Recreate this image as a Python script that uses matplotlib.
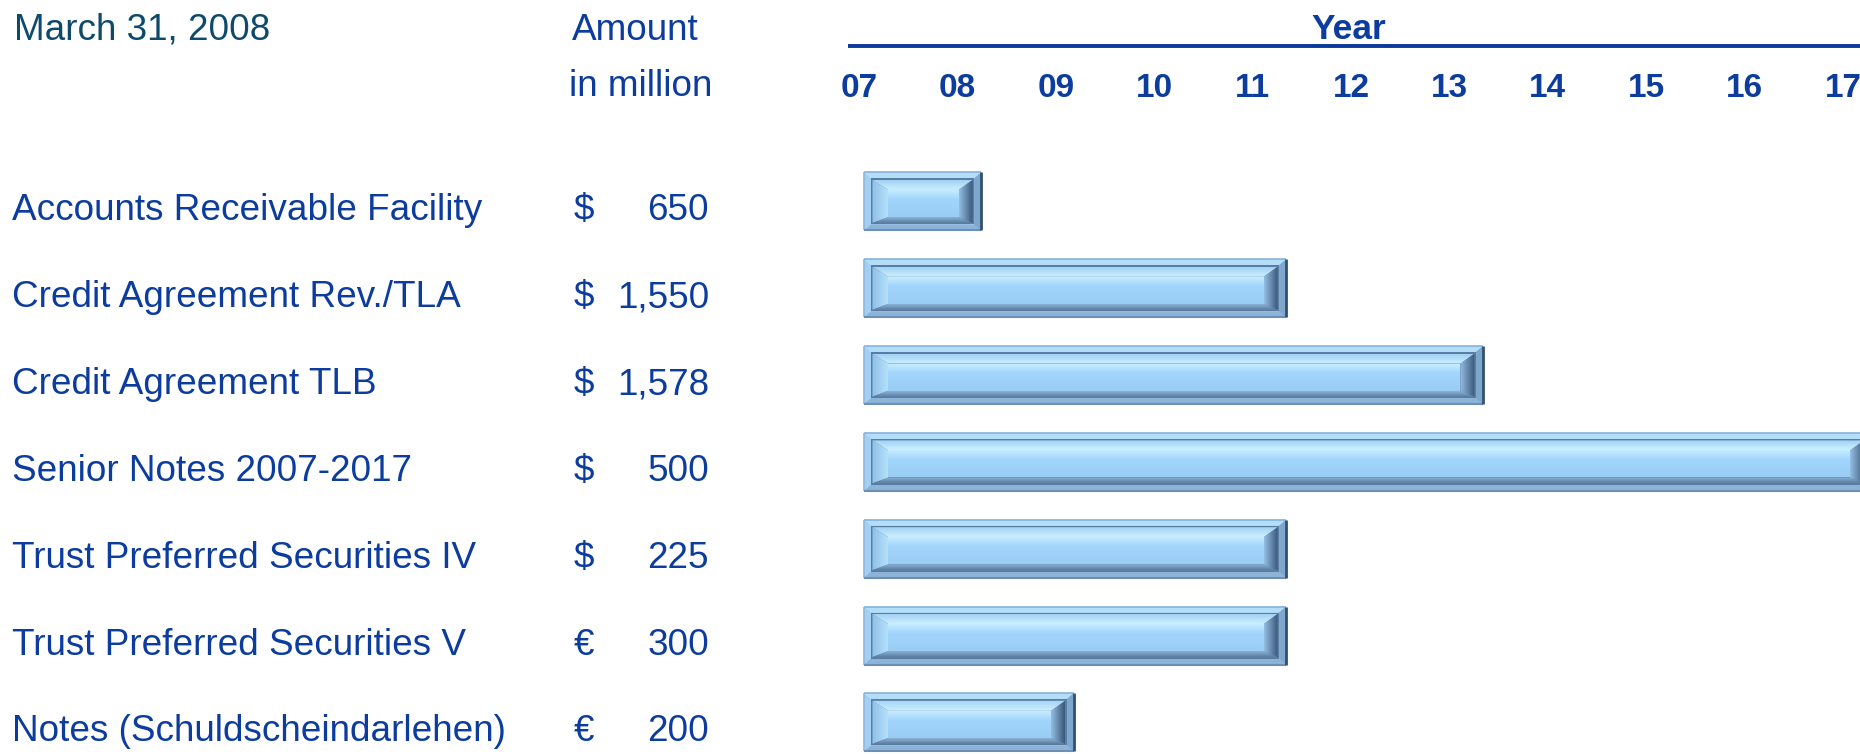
import matplotlib
matplotlib.use('Agg')
import matplotlib.pyplot as plt
import matplotlib.transforms as mtransforms
from matplotlib.colors import to_rgb
from matplotlib.patches import Polygon, Rectangle
import numpy as np

plt.rcParams['font.family'] = ['Liberation Sans', 'DejaVu Sans']

facilities = ['Accounts Receivable Facility', 'Credit Agreement Rev./TLA',
              'Credit Agreement TLB', 'Senior Notes 2007-2017',
              'Trust Preferred Securities IV', 'Trust Preferred Securities V',
              'Notes (Schuldscheindarlehen)']
currencies = ['$', '$', '$', '$', '$', '€', '€']
amounts = [650, 1550, 1578, 500, 225, 300, 200]
start_year = 2007.05
maturity = [2008.24, 2011.34, 2013.34, 2017.3, 2011.34, 2011.34, 2009.18]
years = list(range(2007, 2018))
year_labels = ['%02d' % (y % 100) for y in years]

W, H = 1860, 754
blue = '#0B3C9E'
teal = '#0E4A6C'
XLIM = (2006.888, 2017.173)
YLIM = (6.365, -2.321)

fig = plt.figure(figsize=(W / 100, H / 100), dpi=100)
ax_left = 848
ax = fig.add_axes([ax_left / W, 0, 1 - ax_left / W, 1])
ax.set_xlim(*XLIM)
ax.set_ylim(*YLIM)
ax.axis('off')

# pixel -> data scale
dx = (XLIM[1] - XLIM[0]) / (W - ax_left)
dy = (YLIM[0] - YLIM[1]) / H


def grad_poly(pts, c_start, c_end, horizontal, z):
    # polygon filled with a linear gradient (left->right or top->bottom)
    pts = np.array(pts)
    xa, xb = pts[:, 0].min(), pts[:, 0].max()
    ya, yb = pts[:, 1].min(), pts[:, 1].max()
    t = np.linspace(0, 1, 48)[:, None]
    g = np.array(to_rgb(c_start)) + (np.array(to_rgb(c_end)) - np.array(to_rgb(c_start))) * t
    img = g[None, :, :] if horizontal else g[:, None, :]
    im = ax.imshow(img, extent=(xa, xb, yb, ya), aspect='auto',
                   interpolation='bilinear', zorder=z)
    patch = Polygon(pts, closed=True, facecolor='none', edgecolor='none')
    ax.add_patch(patch)
    im.set_clip_path(patch)


def poly(pts, color, z):
    ax.add_patch(Polygon(pts, closed=True, facecolor=color, edgecolor='none', zorder=z))


def edge(xs, ys, color, lw):
    ax.plot(xs, ys, color=color, lw=lw, solid_capstyle='butt', zorder=3.5)


bar_h = 58 * dy
for i, end in enumerate(maturity):
    x0, x1 = start_year, end
    y0, y1 = i - bar_h / 2, i + bar_h / 2
    # outer frame
    ax.add_patch(Rectangle((x0, y0), x1 - x0, y1 - y0, facecolor='#A3D0F2',
                           edgecolor='none', zorder=2))
    fx, fy = 7 * dx, 6 * dy
    poly([(x0, y0), (x1, y0), (x1 - fx, y0 + fy), (x0 + fx, y0 + fy)], '#B4DDF8', 3)
    poly([(x0, y1), (x1, y1), (x1 - fx, y1 - fy), (x0 + fx, y1 - fy)], '#8DB3D8', 3)
    poly([(x1, y0), (x1, y1), (x1 - fx, y1 - fy), (x1 - fx, y0 + fy)], '#7FA6CC', 3)
    edge([x0, x1], [y0, y0], '#86B3DC', 1.2)
    edge([x0, x0], [y0, y1], '#8DB8DE', 1.2)
    edge([x0, x1], [y1, y1], '#6D8FB3', 1.5)
    edge([x1, x1], [y0, y1], '#34506F', 2)
    # recessed inner area
    xi0, xi1 = x0 + fx, x1 - fx
    yi0, yi1 = y0 + fy, y1 - fy
    ax.add_patch(Rectangle((xi0, yi0), xi1 - xi0, yi1 - yi0, facecolor='#5A7EA3',
                           edgecolor='none', zorder=4))
    e = 1.5
    xa0, xa1 = xi0 + e * dx, xi1 - e * dx
    ya0, ya1 = yi0 + e * dy, yi1 - e * dy
    xf0, xf1 = xa0 + 16 * dx, xa1 - 14 * dx
    yf0, yf1 = ya0 + 10 * dy, ya1 - 6 * dy
    grad_poly([(xa0, ya0), (xa1, ya0), (xf1, yf0), (xf0, yf0)], '#A2D1F4', '#CDF0FF', False, 5)
    grad_poly([(xa0, ya0), (xf0, yf0), (xf0, yf1), (xa0, ya1)], '#8FC0E8', '#B6E0FB', True, 5)
    grad_poly([(xa0, ya1), (xa1, ya1), (xf1, yf1), (xf0, yf1)], '#8CB2D6', '#5B7E9E', False, 5)
    grad_poly([(xa1, ya0), (xa1, ya1), (xf1, yf1), (xf1, yf0)], '#94BEE3', '#39587A', True, 5)
    # face
    t = np.linspace(0, 1, 64)[:, None]
    c_hi = np.array(to_rgb('#C4ECFF'))
    c_mid = np.array(to_rgb('#A1D5FB'))
    c_bot = np.array(to_rgb('#99CDF4'))
    grad = np.where(t < 0.35, c_hi + (c_mid - c_hi) * (t / 0.35),
                    c_mid + (c_bot - c_mid) * ((t - 0.35) / 0.65))
    ax.imshow(grad[:, None, :], extent=(xf0, xf1, yf1, yf0), aspect='auto',
              interpolation='bilinear', zorder=6)

ax.set_xlim(*XLIM)
ax.set_ylim(*YLIM)

# header: Year line and year labels
header_line_y = (46 - 201.5) * dy
ax.plot(XLIM, [header_line_y, header_line_y], color='#0A3A9A',
        lw=2.8, solid_capstyle='butt', clip_on=False)
ax.text(np.mean([years[0], years[-1]]) - 0.02, (39 - 201.5) * dy, 'Year', ha='center',
        va='baseline', fontsize=25.5, fontweight='bold', color=blue)
for y, lab in zip(years, year_labels):
    ax.text(y, (97 - 201.5) * dy, lab, ha='center', va='baseline', fontsize=24,
            fontweight='bold', color=blue)

# left-side table text
trans = mtransforms.blended_transform_factory(fig.transFigure, ax.transData)
trans = mtransforms.offset_copy(trans, fig=fig, y=-19, units='dots')
fs = 26.6
for i, (name, cur, amt) in enumerate(zip(facilities, currencies, amounts)):
    ax.text(12 / W, i, name, transform=trans, ha='left', va='baseline',
            fontsize=fs, color=blue)
    ax.text(574 / W, i, cur, transform=trans, ha='left', va='baseline',
            fontsize=fs, color=blue)
    ax.text(709 / W, i, f'{amt:,}', transform=trans, ha='right', va='baseline',
            fontsize=fs, color=blue)

fig.text(14 / W, 1 - 40 / H, 'March 31, 2008', ha='left', va='baseline',
         fontsize=fs, color=teal)
fig.text(572 / W, 1 - 40 / H, 'Amount', ha='left', va='baseline',
         fontsize=fs, color=blue)
fig.text(569 / W, 1 - 96 / H, 'in million', ha='left', va='baseline',
         fontsize=fs, color=blue)

fig.savefig('out.png', dpi=100, facecolor='white')
